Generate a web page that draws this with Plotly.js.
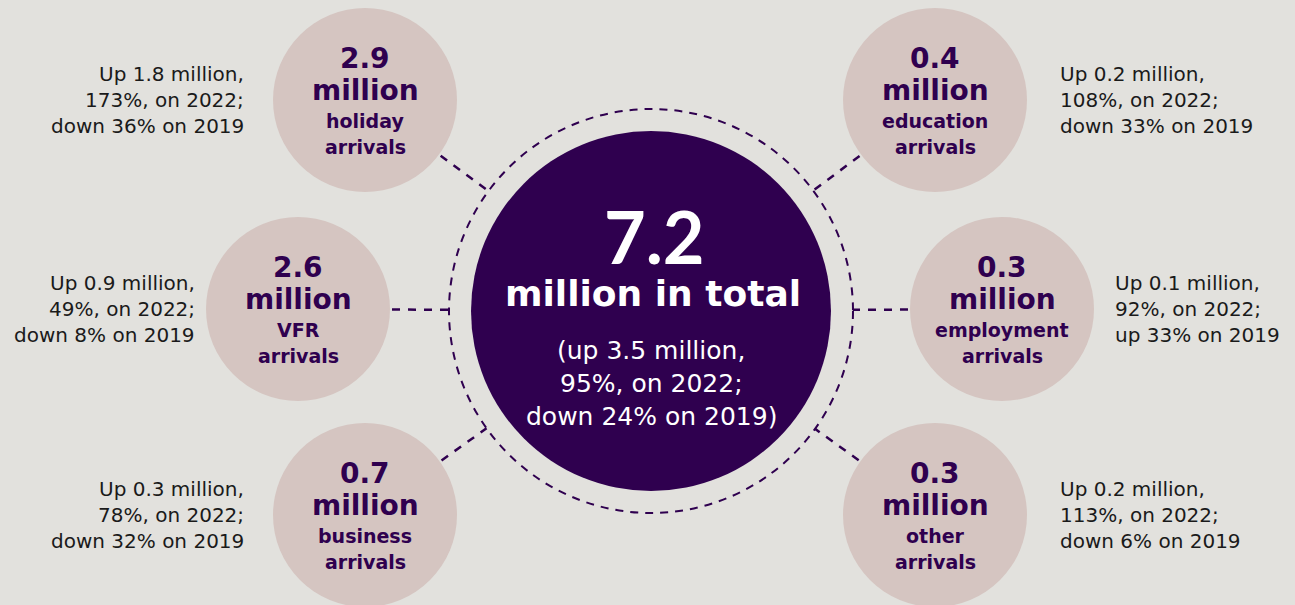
<!DOCTYPE html>
<html>
<head>
<meta charset="utf-8">
<script src="https://cdn.plot.ly/plotly-3.0.1.min.js"></script>
<style>html,body{margin:0;padding:0;background:#e2e1dd;}#chart{width:1295px;height:605px;}</style>
</head>
<body>
<div id="chart"></div>
<script>
// ---- data ----
const categories = ['holiday', 'VFR', 'business', 'education', 'employment', 'other'];
const arrivalsMillion = [2.9, 2.6, 0.7, 0.4, 0.3, 0.3];
const changeOn2022Million = [1.8, 0.9, 0.3, 0.2, 0.1, 0.2];
const changeOn2022Pct = [173, 49, 78, 108, 92, 113];
const changeOn2019Pct = [-36, -8, -32, -33, 33, -6];
const totalMillion = 7.2;
const totalChangeOn2022Million = 3.5;
const totalChangeOn2022Pct = 95;
const totalChangeOn2019Pct = -24;

// ---- geometry / style (layout only) ----
const BG = '#e2e1dd', NODE = '#d5c5c1', DARK = '#2f004f', TXT = '#1a1a1a';
const FONT = '"DejaVu Sans", Lato, sans-serif';
const FONT_NUM = 'Lato, "DejaVu Sans", sans-serif';
const C = {x: 651, y: 311};
const R_DARK = 180, R_DASH = 202, R_NODE = 92;
const nodes = [
  {x: 365, y: 100, side: 'left',  tx: 246},
  {x: 298, y: 309, side: 'left',  tx: 197},
  {x: 365, y: 515, side: 'left',  tx: 246},
  {x: 935, y: 100, side: 'right', tx: 1058},
  {x: 1002, y: 309, side: 'right', tx: 1113},
  {x: 935, y: 515, side: 'right', tx: 1058}
];

const shapes = [];
const annotations = [];

function ann(x, y, text, size, color, weight, align, family) {
  annotations.push({
    x: x, y: y, xref: 'x', yref: 'y', text: text, showarrow: false,
    xanchor: align || 'center', yanchor: 'middle',
    font: {family: family || FONT, size: size, color: color, weight: weight || 400}
  });
}

const dashStyle = {color: DARK, width: 2.5, dash: '8px,8px'};

// connectors
nodes.forEach(n => {
  const dx = C.x - n.x, dy = C.y - n.y, d = Math.hypot(dx, dy);
  const ux = dx / d, uy = dy / d;
  shapes.push({type: 'line', xref: 'x', yref: 'y',
    x0: n.x + ux * (R_NODE + 2), y0: n.y + uy * (R_NODE + 2),
    x1: C.x - ux * R_DASH, y1: C.y - uy * R_DASH,
    line: dashStyle, layer: 'below'});
});

// dashed ring
shapes.push({type: 'circle', xref: 'x', yref: 'y',
  x0: C.x - R_DASH, x1: C.x + R_DASH, y0: C.y - R_DASH, y1: C.y + R_DASH,
  line: {color: DARK, width: 2, dash: '8px,7px'}, fillcolor: 'rgba(0,0,0,0)'});
// dark centre
shapes.push({type: 'circle', xref: 'x', yref: 'y',
  x0: C.x - R_DARK, x1: C.x + R_DARK, y0: C.y - R_DARK, y1: C.y + R_DARK,
  line: {width: 0}, fillcolor: DARK});

// nodes
nodes.forEach((n, i) => {
  shapes.push({type: 'circle', xref: 'x', yref: 'y',
    x0: n.x - R_NODE, x1: n.x + R_NODE, y0: n.y - R_NODE, y1: n.y + R_NODE,
    line: {width: 0}, fillcolor: NODE});
  ann(n.x, n.y - 42, arrivalsMillion[i].toFixed(1), 28, DARK, 700);
  ann(n.x, n.y - 10, 'million', 28, DARK, 700);
  ann(n.x, n.y + 21, categories[i], 19, DARK, 700);
  ann(n.x, n.y + 47, 'arrivals', 19, DARK, 700);

  const p19 = changeOn2019Pct[i];
  const lines = [
    'Up ' + changeOn2022Million[i].toFixed(1) + ' million,',
    changeOn2022Pct[i] + '%, on 2022;',
    (p19 < 0 ? 'down ' : 'up ') + Math.abs(p19) + '% on 2019'
  ];
  lines.forEach((t, k) => {
    ann(n.tx, n.y - 26 + k * 26, t, 20, TXT, 400, n.side === 'left' ? 'right' : 'left');
  });
});

// centre text
ann(C.x + 3, 236, totalMillion.toFixed(1), 72, '#ffffff', 700, 'center', FONT_NUM);
ann(C.x + 2, 293, 'million in total', 36, '#ffffff', 700);
ann(C.x, 350, '(up ' + totalChangeOn2022Million.toFixed(1) + ' million,', 25, '#ffffff', 400);
ann(C.x, 383, totalChangeOn2022Pct + '%, on 2022;', 25, '#ffffff', 400);
ann(C.x, 416, (totalChangeOn2019Pct < 0 ? 'down ' : 'up ') + Math.abs(totalChangeOn2019Pct) + '% on 2019)', 25, '#ffffff', 400);

const data = [{
  x: nodes.map(n => n.x), y: nodes.map(n => n.y), type: 'scatter', mode: 'markers',
  marker: {size: 1, opacity: 0}, hoverinfo: 'skip', showlegend: false,
  customdata: arrivalsMillion
}];

const layout = {
  width: 1295, height: 605,
  margin: {l: 0, r: 0, t: 0, b: 0},
  paper_bgcolor: BG, plot_bgcolor: BG,
  xaxis: {range: [0, 1295], visible: false, fixedrange: true},
  yaxis: {range: [605, 0], visible: false, fixedrange: true},
  shapes: shapes, annotations: annotations, showlegend: false
};

Plotly.newPlot('chart', data, layout, {displayModeBar: false, staticPlot: true});
</script>
</body>
</html>
